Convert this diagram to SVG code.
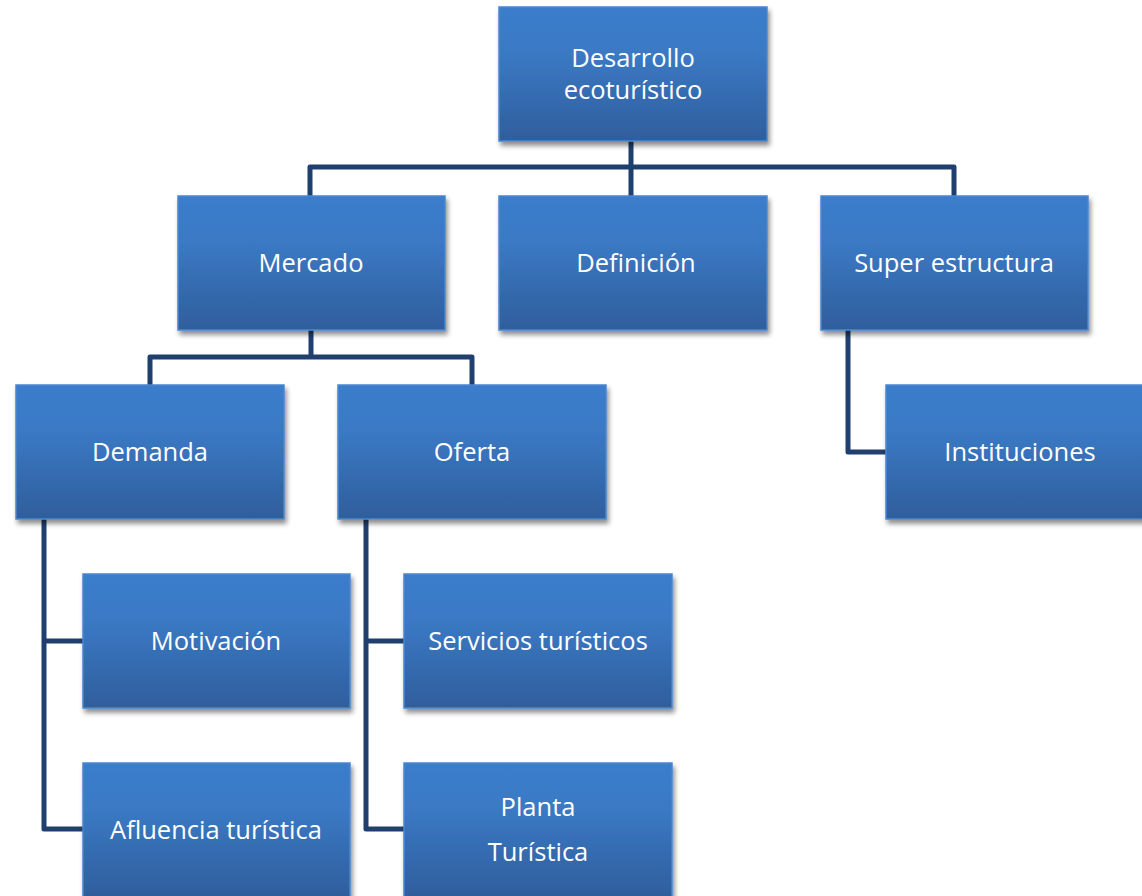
<svg xmlns="http://www.w3.org/2000/svg" width="1142" height="896" viewBox="0 0 1142 896">
<defs>
<linearGradient id="g" x1="0" y1="0" x2="0" y2="1">
<stop offset="0" stop-color="#3a7dcc"/>
<stop offset="0.35" stop-color="#3a79c4"/>
<stop offset="1" stop-color="#2f5e9c"/>
</linearGradient>
<filter id="sh" x="-10%" y="-10%" width="125%" height="130%">
<feGaussianBlur in="SourceAlpha" stdDeviation="2.5"/>
<feOffset dx="2" dy="4" result="b"/>
<feComponentTransfer><feFuncA type="linear" slope="0.45"/></feComponentTransfer>
<feMerge><feMergeNode/><feMergeNode in="SourceGraphic"/></feMerge>
</filter>
</defs>
<style>
.box{fill:url(#g);stroke:#4a86cf;stroke-width:1.5;filter:url(#sh)}
.t{font-family:"Open Sans","Noto Sans",sans-serif;font-size:25.5px;fill:#ffffff;text-anchor:middle}
.c{fill:none;stroke:#1f3f6e;stroke-width:5;stroke-linejoin:round}
</style>
<g id="connectors">
<path class="c" d="M631,141 V167 M310,196 V167 H954 V196 M631,167 V196"/>
<path class="c" d="M311,330 V357 M150,385 V357 H472 V385"/>
<path class="c" d="M44,519 V829 H83 M44,641 H83"/>
<path class="c" d="M366,519 V829 H404 M366,641 H404"/>
<path class="c" d="M848,330 V452 H886"/>
</g>
<g id="n-desarrollo"><rect class="box" x="499" y="7" width="268" height="134"/><text class="t" x="633" y="67">Desarrollo</text><text class="t" x="633" y="99">ecoturístico</text></g>
<g id="n-mercado"><rect class="box" x="178" y="196" width="267" height="134"/><text class="t" x="311" y="272">Mercado</text></g>
<g id="n-definicion"><rect class="box" x="499" y="196" width="268" height="134"/><text class="t" x="636" y="272">Definición</text></g>
<g id="n-super"><rect class="box" x="821" y="196" width="267" height="134"/><text class="t" x="954" y="272">Super estructura</text></g>
<g id="n-demanda"><rect class="box" x="16" y="385" width="268" height="134"/><text class="t" x="150" y="461">Demanda</text></g>
<g id="n-oferta"><rect class="box" x="338" y="385" width="268" height="134"/><text class="t" x="472" y="461">Oferta</text></g>
<g id="n-instituciones"><rect class="box" x="886" y="385" width="268" height="134"/><text class="t" x="1020" y="461">Instituciones</text></g>
<g id="n-motivacion"><rect class="box" x="83" y="574" width="267" height="134"/><text class="t" x="216" y="650">Motivación</text></g>
<g id="n-servicios"><rect class="box" x="404" y="574" width="268" height="134"/><text class="t" x="538" y="650">Servicios turísticos</text></g>
<g id="n-afluencia"><rect class="box" x="83" y="763" width="267" height="134"/><text class="t" x="216" y="839">Afluencia turística</text></g>
<g id="n-planta"><rect class="box" x="404" y="763" width="268" height="134"/><text class="t" x="538" y="816">Planta</text><text class="t" x="538" y="861">Turística</text></g>
</svg>
